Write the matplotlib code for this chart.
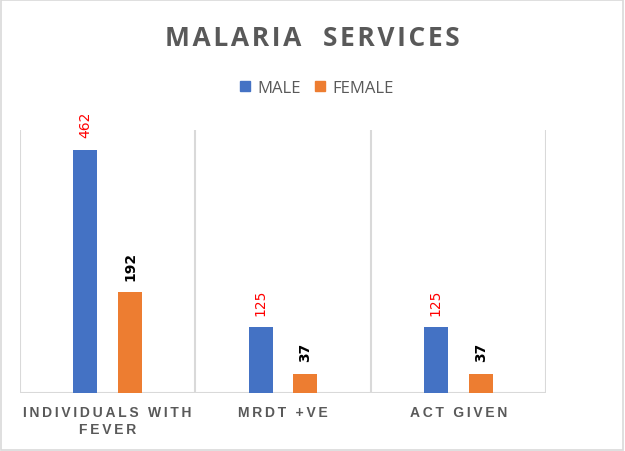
import matplotlib.pyplot as plt
from matplotlib.patches import Rectangle, Patch

categories = ["INDIVIDUALS WITH\nFEVER", "MRDT +VE", "ACT GIVEN"]
male = [462, 125, 125]
female = [192, 37, 37]
series_names = ["MALE", "FEMALE"]

BLUE = "#4472C4"
ORANGE = "#ED7D31"
GRID = "#D9D9D9"
TXT = "#595959"


def spaced(s, sep="\u2009"):
    return "\n".join(sep.join(line) for line in s.split("\n"))


fig = plt.figure(figsize=(6.25, 4.52), dpi=100)
ax = fig.add_axes([20 / 625, 1 - 394 / 452, 526 / 625, 263 / 452])

x = list(range(len(categories)))
off = 0.128
w = 0.137
bm = ax.bar([i - off for i in x], male, w, color=BLUE, zorder=3)
bf = ax.bar([i + off for i in x], female, w, color=ORANGE, zorder=3)

ax.set_xlim(-0.5, len(categories) - 0.5)
ax.set_ylim(0, 500)
for s in ax.spines.values():
    s.set_visible(False)
ax.set_xticks([])
ax.set_yticks([])
for g in [i - 0.5 for i in range(len(categories) + 1)]:
    ax.axvline(g, color=GRID, lw=1.5, zorder=1)
ax.axhline(0, color=GRID, lw=1.5, zorder=2)

for rect, v in zip(bm, male):
    ax.annotate(str(v), (rect.get_x() + rect.get_width() / 2, v),
                xytext=(0, 9), textcoords="offset points", rotation=90,
                ha="center", va="bottom", color="#FF0000", fontsize=10,
                family="DejaVu Sans")
for rect, v in zip(bf, female):
    ax.annotate(str(v), (rect.get_x() + rect.get_width() / 2, v),
                xytext=(0, 9), textcoords="offset points", rotation=90,
                ha="center", va="bottom", color="black", fontsize=10,
                fontweight="bold", family="DejaVu Sans")

for i, c in zip(x, categories):
    ax.annotate(spaced(c), (i, 0), xytext=(0, -9), textcoords="offset points",
                ha="center", va="top", fontsize=10, fontweight="bold",
                color=TXT, family="Liberation Sans", linespacing=1.2)

fig.text(0.5, 1 - 38 / 452, spaced("MALARIA  SERVICES", "\u200a"), ha="center",
         va="center", fontsize=19, fontweight="bold", color=TXT,
         family="Open Sans")

handles = [Patch(color=BLUE), Patch(color=ORANGE)]
fig.legend(handles, series_names, loc="center", bbox_to_anchor=(0.507, 1 - 89 / 452),
           ncol=2, frameon=False, handlelength=0.6, handleheight=0.6,
           handletextpad=0.4, columnspacing=0.9,
           prop={"family": "Open Sans", "size": 12}, labelcolor=TXT)

fig.patches.append(Rectangle((0.001, 0.002), 0.996, 0.995, transform=fig.transFigure,
                             fill=False, edgecolor=GRID, lw=1.2))

fig.savefig("out.png", dpi=100)
